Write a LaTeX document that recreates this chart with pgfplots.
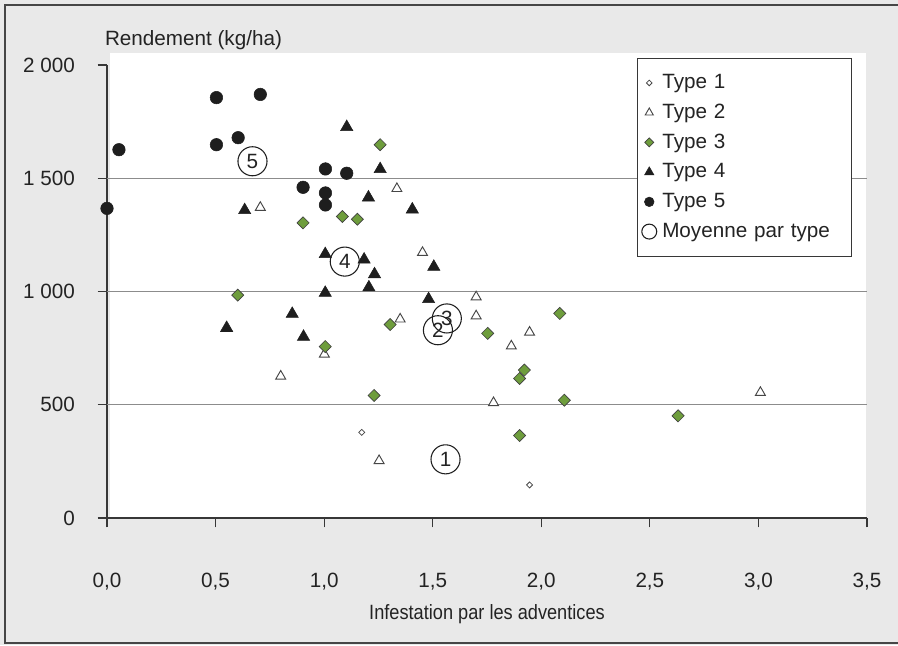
\documentclass[border=0pt]{standalone}
\usepackage{graphicx}
\usepackage{pgfplots}
\pgfplotsset{compat=1.18}
\usepackage{fontspec}
\setmainfont{Liberation Sans}

\definecolor{bg}{RGB}{233,233,233}
\definecolor{framec}{RGB}{70,70,70}
\definecolor{axisc}{RGB}{55,55,55}
\definecolor{gridc}{RGB}{140,140,140}
\definecolor{txt}{RGB}{35,35,35}
\definecolor{dark}{RGB}{30,30,30}
\definecolor{green3}{RGB}{110,157,60}
\definecolor{openc}{RGB}{70,70,70}

\newcommand{\ff}{\fontsize{15.5}{18}\selectfont}

% legend image: one mark in a 14pt wide cell
\pgfplotsset{legimg/.style={legend image code/.code={%
  \path[draw=none,fill=none] (0pt,-3pt) rectangle (14pt,3pt);
  \draw[##1] plot coordinates {(7pt,0pt)};}}}

\begin{document}
\begin{tikzpicture}[font=\ff]
\useasboundingbox (0,0) rectangle (673.5pt,483.75pt);
\fill[bg] (0,0) rectangle (673.5pt,483.75pt);
\draw[framec, line width=1.1pt] (673.5pt,480pt) -- (3.75pt,480pt) -- (3.75pt,1.5pt) -- (673.5pt,1.5pt);
\fill[white] (82.5pt,95.25pt) rectangle (649.5pt,444pt);

\begin{axis}[
  at={(80.25pt,95.25pt)}, anchor=south west,
  scale only axis, width=570pt, height=339.75pt,
  xmin=0, xmax=3.5, ymin=0, ymax=2000,
  axis x line=bottom, axis y line=left,
  axis line style={-, draw=axisc, line width=1pt},
  tick align=outside, major tick length=7pt,
  tick style={draw=axisc, line width=0.9pt},
  xtick={0,0.5,1,1.5,2,2.5,3,3.5},
  xticklabels={{0,0},{0,5},{1,0},{1,5},{2,0},{2,5},{3,0},{3,5}},
  ytick={0,500,1000,1500,2000},
  yticklabels={0,500,1~000,1~500,2~000},
  tick label style={font=\ff, text=txt},
  xticklabel style={yshift=-31pt},
  yticklabel style={xshift=-13.5pt},
  xlabel={\scalebox{0.88}[1]{Infestation par les adventices}},
  xlabel style={font=\ff, text=txt, at={(axis description cs:0.5,0)}, anchor=center, yshift=-72pt},
  ylabel={Rendement (kg/ha)},
  ylabel style={font=\ff, text=txt, rotate=-90, at={(axis description cs:0,1)}, anchor=west, xshift=-5pt, yshift=18.75pt},
  clip=false,
  legend cell align=left,
  legend style={at={(0.98,1.0165)}, anchor=north east, draw=axisc, line width=0.8pt,
    fill=white, font=\ff, text=txt, inner xsep=2pt, inner ysep=7.5pt, row sep=0pt,
    nodes={text width=137pt, align=left, inner xsep=2.75pt, inner ysep=3.4pt,
      text height=12pt, text depth=3.5pt}},
]
\draw[gridc, line width=0.6pt] (axis cs:0,500) -- (axis cs:3.5,500);
\draw[gridc, line width=0.6pt] (axis cs:0,1000) -- (axis cs:3.5,1000);
\draw[gridc, line width=0.6pt] (axis cs:0,1500) -- (axis cs:3.5,1500);

% Type 1
\addplot[only marks, mark=square*, mark size=1.6pt,
  mark options={rotate=45, draw=openc, fill=white, line width=0.6pt},
  legimg, legend image post style={mark size=1.5pt}]
  coordinates {(1.173,378) (1.946,146)};
\addlegendentry{Type 1}

% Type 2
\addplot[only marks, mark=triangle*, mark size=4.3pt,
  mark options={draw=openc, fill=white, line width=0.7pt},
  legimg, legend image post style={mark size=3.5pt}]
  coordinates {
  (0.706,1371) (1.335,1454) (1.453,1172) (1.700,976) (1.700,892)
  (1.350,878) (1.946,820) (1.862,759) (1.780,509) (1.253,253)
  (3.009,554) (0.800,626) (1.001,723)};
\addlegendentry{Type 2}

% Type 3
\addplot[only marks, mark=square*, mark size=3.2pt,
  mark options={rotate=45, draw=dark!85, fill=green3, line width=0.5pt},
  legimg, legend image post style={mark size=2.4pt}]
  coordinates {
  (1.258,1648) (0.903,1303) (1.084,1331) (1.153,1319) (0.602,984)
  (1.005,757) (1.304,854) (1.753,815) (2.085,903) (1.922,653)
  (1.900,616) (1.230,541) (2.106,520) (1.900,364) (2.630,451)};
\addlegendentry{Type 3}

% Type 4
\addplot[only marks, mark=triangle*, mark size=5.3pt,
  mark options={draw=dark, fill=dark, line width=0.4pt},
  legimg, legend image post style={mark size=4pt}]
  coordinates {
  (1.104,1726) (1.258,1540) (1.204,1415) (1.406,1362) (0.634,1359)
  (1.005,1165) (1.184,1141) (1.232,1076) (1.206,1018) (1.005,994)
  (1.505,1109) (1.481,966) (0.853,901) (0.551,839) (0.905,800)};
\addlegendentry{Type 4}

% Type 5
\addplot[only marks, mark=*, mark size=4.7pt,
  mark options={draw=dark, fill=dark, line width=0.4pt},
  legimg, legend image post style={mark size=3.6pt}]
  coordinates {
  (0.000,1367) (0.055,1626) (0.504,1856) (0.706,1870) (0.504,1648)
  (0.604,1679) (1.006,1541) (1.104,1522) (0.903,1460) (1.006,1435)
  (1.006,1382)};
\addlegendentry{Type 5}

% Moyennes
\addplot[only marks, mark=o, mark size=10.9pt,
  mark options={draw=dark, line width=0.8pt},
  nodes near coords, point meta=explicit symbolic,
  every node near coord/.append style={anchor=center, inner sep=0pt, font=\ff, text=txt},
  legimg, legend image post style={mark size=5.6pt}]
  table[meta=lab] {
  x y lab
  1.559 259 1
  1.524 829 2
  1.565 881 3
  1.095 1132 4
  0.670 1575 5
  };
\addlegendentry{Moyenne par type}
\end{axis}
\end{tikzpicture}
\end{document}
